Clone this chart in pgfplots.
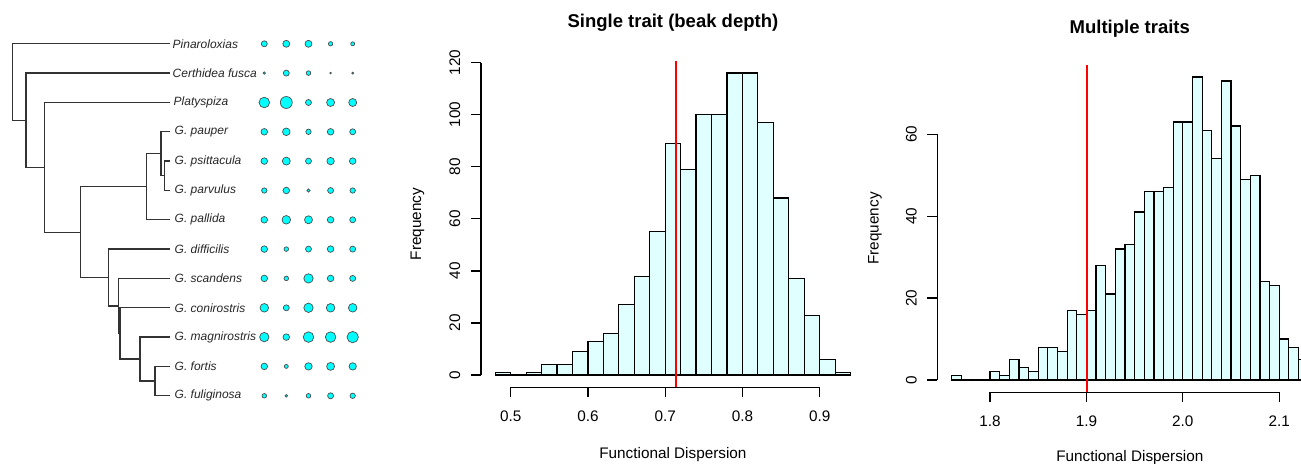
\documentclass[border=0pt]{standalone}
\usepackage{fontspec}
\setmainfont{Liberation Sans}
\usepackage{pgfplots}
\pgfplotsset{compat=1.18}
\usepackage{pgfplotstable}
\definecolor{histfill}{HTML}{E0FFFF}
\definecolor{dotfill}{HTML}{00FFFF}

% single trait histogram: left edge of bin, count (last row closes the interval)
\pgfplotstableread{
x c
0.48 1
0.50 0
0.52 1
0.54 4
0.56 4
0.58 9
0.60 13
0.62 16
0.64 27
0.66 38
0.68 55
0.70 89
0.72 79
0.74 100
0.76 100
0.78 116
0.80 116
0.82 97
0.84 68
0.86 37
0.88 23
0.90 6
0.92 1
0.94 0
}\histone

% multiple traits histogram
\pgfplotstableread{
x c
1.76 1
1.77 0
1.78 0
1.79 0
1.80 2
1.81 1
1.82 5
1.83 3
1.84 2
1.85 8
1.86 8
1.87 7
1.88 17
1.89 16
1.90 17
1.91 28
1.92 21
1.93 32
1.94 33
1.95 41
1.96 46
1.97 46
1.98 47
1.99 63
2.00 63
2.01 74
2.02 61
2.03 54
2.04 73
2.05 62
2.06 49
2.07 50
2.08 24
2.09 23
2.10 10
2.11 8
2.12 5
2.13 0
}\histtwo

% trait dots: column x, tip y, radius
\pgfplotstableread{
x y r
264.3 43.8 3.0
286.3 43.8 3.5
308.5 43.8 3.5
330.6 43.8 2.2
352.7 43.8 2.0
264.3 73.1 1.2
286.3 73.1 3.0
308.5 73.1 2.3
330.6 73.1 0.8
352.7 73.1 1.0
264.3 102.5 5.3
286.3 102.5 6.0
308.5 102.5 3.0
330.6 102.5 4.0
352.7 102.5 4.0
264.3 131.8 3.3
286.3 131.8 3.8
308.5 131.8 2.7
330.6 131.8 3.3
352.7 131.8 3.0
264.3 161.1 3.3
286.3 161.1 4.0
308.5 161.1 3.0
330.6 161.1 3.7
352.7 161.1 3.3
264.3 190.5 2.7
286.3 190.5 3.3
308.5 190.5 1.7
330.6 190.5 3.0
352.7 190.5 2.7
264.3 219.8 3.3
286.3 219.8 4.3
308.5 219.8 4.0
330.6 219.8 3.3
352.7 219.8 3.0
264.3 249.1 3.3
286.3 249.1 2.3
308.5 249.1 3.0
330.6 249.1 3.3
352.7 249.1 3.0
264.3 278.4 3.3
286.3 278.4 2.3
308.5 278.4 4.7
330.6 278.4 3.3
352.7 278.4 3.0
264.3 307.8 4.3
286.3 307.8 3.0
308.5 307.8 4.7
330.6 307.8 4.3
352.7 307.8 4.3
264.3 337.1 4.7
286.3 337.1 3.3
308.5 337.1 5.3
330.6 337.1 5.3
352.7 337.1 5.7
264.3 366.4 3.3
286.3 366.4 2.0
308.5 366.4 3.7
330.6 366.4 4.0
352.7 366.4 3.7
264.3 395.8 2.3
286.3 395.8 1.3
308.5 395.8 2.3
330.6 395.8 3.0
352.7 395.8 2.7
}\dotdata

\tikzset{lab/.style={font=\fontsize{15.3bp}{18bp}\selectfont}}
\pgfplotsset{
  tree/.style={black!80, line width=1.3bp, no markers},
  histaxis/.style={
    scale only axis, anchor=south west, clip=false,
    axis line style={draw=none},
    tick pos=left, tick align=outside, major tick length=10bp,
    tick style={black, line width=1.2bp},
    minor tick num=0,
    /pgf/number format/assume math mode=true,
    tick label style={font=\fontsize{15.3bp}{18bp}\selectfont},
    every axis title/.style={at={(axis description cs:0.5,1)}, anchor=base,
      font=\bfseries\fontsize{18.5bp}{22bp}\selectfont},
  },
}

\begin{document}
\begin{tikzpicture}
\useasboundingbox (0,0) rectangle (1301bp,464bp);

% ---------------- phylogeny with trait dots ----------------
\begin{axis}[
  at={(0bp,0bp)}, anchor=south west, scale only axis,
  width=380bp, height=464bp,
  xmin=0, xmax=380, ymin=0, ymax=464, y dir=reverse,
  hide axis, clip=false,
]
\addplot[tree] coordinates {(169.5,161.1) (164.3,161.1) (164.3,190.5) (169.5,190.5)};
\addplot[tree] coordinates {(169.5,131.8) (161,131.8) (161,175.8) (164.3,175.8)};
\addplot[tree] coordinates {(161,153.8) (146.7,153.8) (146.7,219.8) (169.5,219.8)};
\addplot[tree] coordinates {(169.5,366.4) (155,366.4) (155,395.8) (169.5,395.8)};
\addplot[tree] coordinates {(169.5,337.1) (140,337.1) (140,381.1) (155,381.1)};
\addplot[tree] coordinates {(169.5,307.8) (120,307.8) (120,359.1) (140,359.1)};
\addplot[tree] coordinates {(169.5,278.4) (118.3,278.4) (118.3,333.45) (120,333.45)};
\addplot[tree] coordinates {(169.5,249.1) (108.3,249.1) (108.3,305.9) (118.3,305.9)};
\addplot[tree] coordinates {(146.7,186.8) (80.3,186.8) (80.3,277.5) (108.3,277.5)};
\addplot[tree] coordinates {(169.5,102.5) (44.3,102.5) (44.3,232.15) (80.3,232.15)};
\addplot[tree] coordinates {(169.5,73.1) (26,73.1) (26,167.3) (44.3,167.3)};
\addplot[tree] coordinates {(169.5,43.8) (12.7,43.8) (12.7,120.2) (26,120.2)};

\addplot[scatter, only marks, mark=*,
  scatter/use mapped color={draw=black!70, fill=dotfill},
  visualization depends on={\thisrow{r} \as \rr},
  scatter/@pre marker code/.append style={/tikz/mark size=\rr},
  line width=0.7bp]
  table[x=x, y=y] {\dotdata};

\begin{scope}[every node/.style={anchor=west, inner sep=0pt, font=\itshape\fontsize{12bp}{14bp}\selectfont, text=black!85}]
\node at (axis cs:172.5,43.8) {Pinaroloxias};
\node at (axis cs:172.5,73.1) {Certhidea fusca};
\node at (axis cs:173.5,102.5) {Platyspiza};
\node at (axis cs:174.5,131.8) {G. pauper};
\node at (axis cs:174.5,161.1) {G. psittacula};
\node at (axis cs:174.5,190.5) {G. parvulus};
\node at (axis cs:174.5,219.8) {G. pallida};
\node at (axis cs:174.5,249.1) {G. difficilis};
\node at (axis cs:174.5,278.4) {G. scandens};
\node at (axis cs:174.5,307.8) {G. conirostris};
\node at (axis cs:174.5,337.1) {G. magnirostris};
\node at (axis cs:174.5,366.4) {G. fortis};
\node at (axis cs:174.5,395.8) {G. fuliginosa};
\end{scope}
\end{axis}

% ---------------- single trait ----------------
\begin{axis}[histaxis,
  at={(481bp,76.9bp)}, width=383.8bp, height=326.1bp,
  xmin=0.4616, xmax=0.9584, ymin=-4.64, ymax=120.64,
  xtick={0.5,0.6,0.7,0.8,0.9}, ytick={0,20,40,60,80,100,120},
  xticklabel style={anchor=base, yshift=-24.7bp},
  yticklabel style={xshift=-11bp, rotate=90, anchor=base},
  title={Single trait (beak depth)},
  title style={yshift=33bp},
  xlabel={Functional Dispersion},
  every axis x label/.style={at={(axis description cs:0.5,0)}, anchor=base, yshift=-71.5bp, lab},
  ylabel={Frequency},
  every axis y label/.style={at={(axis description cs:0,0.5)}, xshift=-60bp, rotate=90, anchor=base, lab},
]
\addplot[ybar interval, fill=histfill, draw=black, line width=1.2bp] table[x=x, y=c] {\histone};
\addplot[black, line width=1.2bp] coordinates {(0.5,-4.64) (0.9,-4.64)};
\addplot[black, line width=1.2bp] coordinates {(0.4616,0) (0.4616,120)};
\addplot[red, line width=2bp] coordinates {(0.714,-4.64) (0.714,120.64)};
\end{axis}

% ---------------- multiple traits ----------------
\begin{axis}[histaxis,
  at={(937.2bp,71.9bp)}, width=385.2bp, height=327.3bp,
  xmin=1.7452, xmax=2.1448, ymin=-2.96, ymax=76.96,
  xtick={1.8,1.9,2.0,2.1}, xticklabels={1.8,1.9,2.0,2.1},
  ytick={0,20,40,60},
  xticklabel style={anchor=base, yshift=-24.6bp},
  yticklabel style={xshift=-10.5bp, rotate=90, anchor=base},
  title={Multiple traits},
  title style={yshift=31.5bp},
  xlabel={Functional Dispersion},
  every axis x label/.style={at={(axis description cs:0.5,0)}, anchor=base, yshift=-69.8bp, lab},
  ylabel={Frequency},
  every axis y label/.style={at={(axis description cs:0,0.5)}, xshift=-58.7bp, rotate=90, anchor=base, lab},
]
\addplot[ybar interval, fill=histfill, draw=black, line width=1.2bp] table[x=x, y=c] {\histtwo};
\addplot[black, line width=1.2bp] coordinates {(1.8,-2.96) (2.1,-2.96)};
\addplot[black, line width=1.2bp] coordinates {(1.7452,0) (1.7452,60)};
\addplot[red, line width=2bp] coordinates {(1.9003,-2.96) (1.9003,76.96)};
\end{axis}
\end{tikzpicture}
\end{document}
